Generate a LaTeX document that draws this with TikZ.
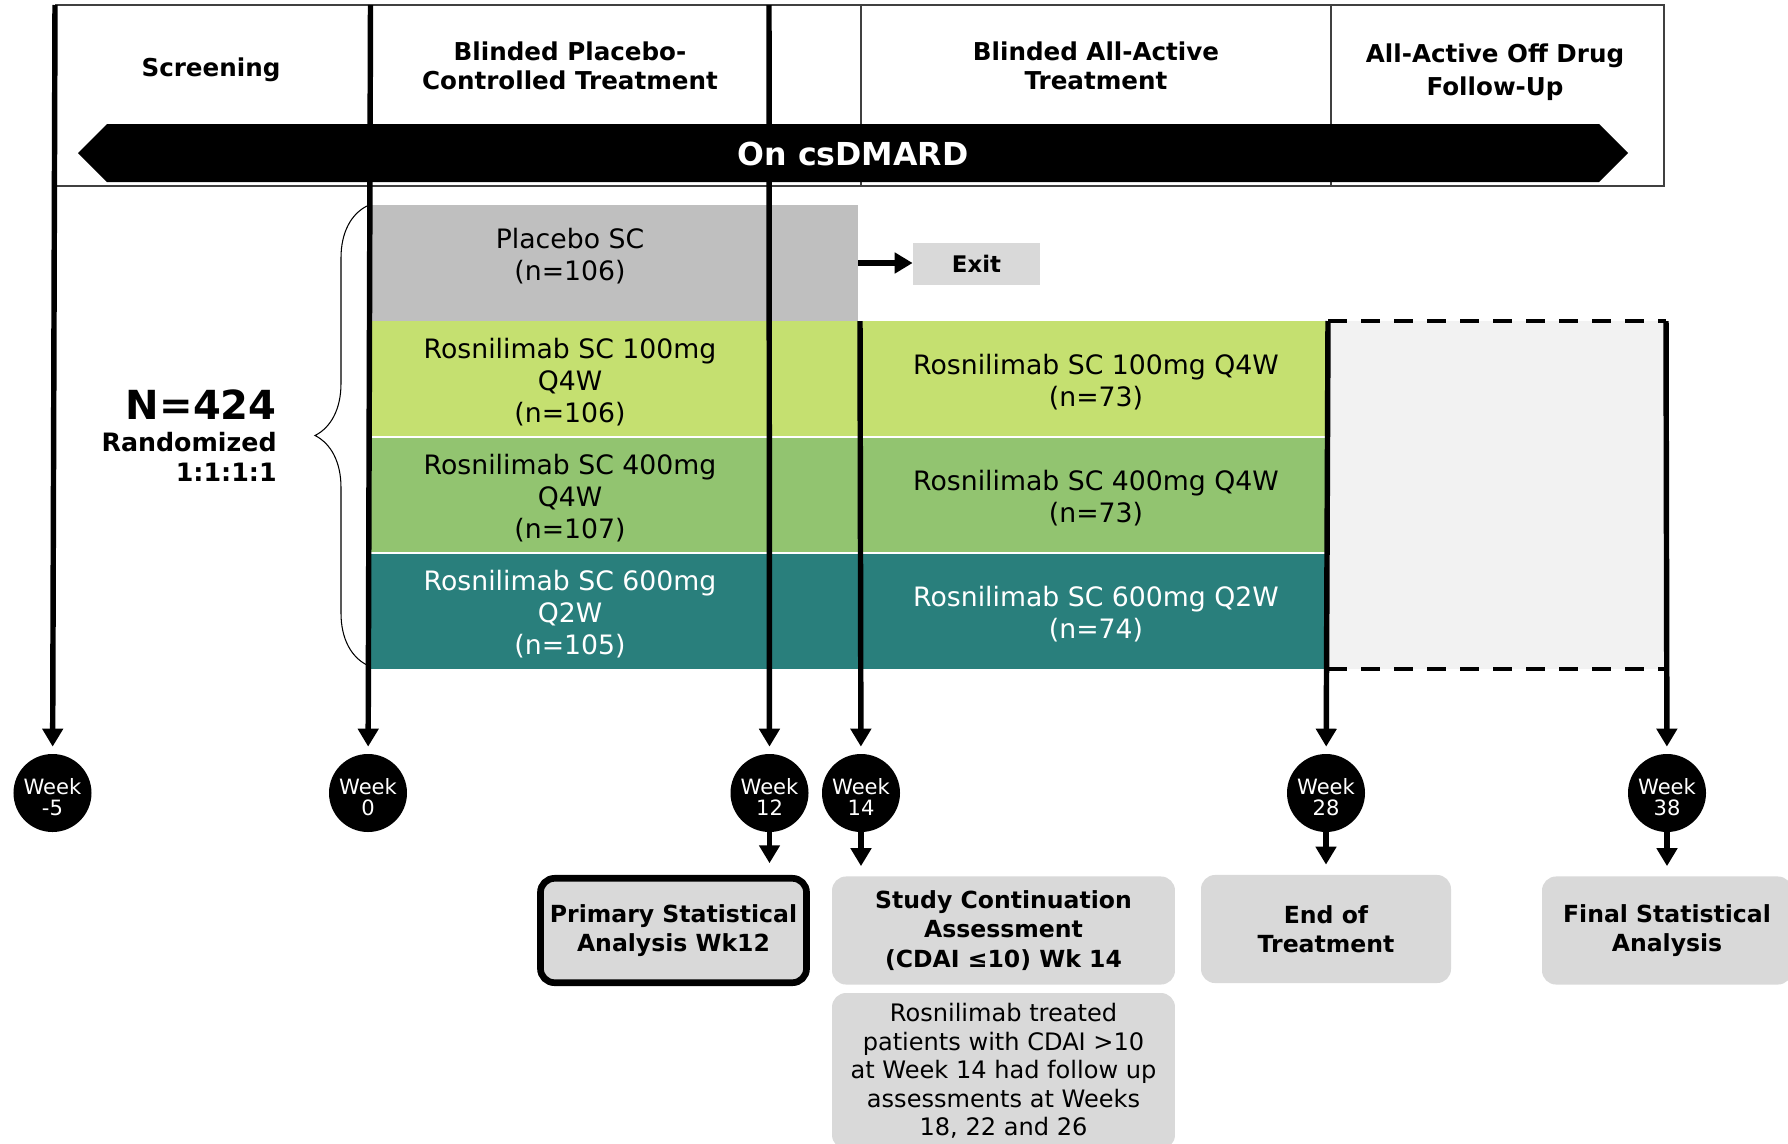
\documentclass[tikz,border=0pt]{standalone}
\usepackage{fontspec}
\setmainfont{DejaVu Sans}
\usetikzlibrary{arrows.meta,decorations.pathreplacing}

\definecolor{hdrline}{HTML}{404040}
\definecolor{boxgray}{HTML}{D9D9D9}
\definecolor{pbogray}{HTML}{BFBFBF}
\definecolor{fugray}{HTML}{F2F2F2}
\definecolor{dose100}{HTML}{C5E070}
\definecolor{dose400}{HTML}{92C470}
\definecolor{dose600}{HTML}{297F7C}

\begin{document}
\begin{tikzpicture}[x=0.02cm, y=-0.02cm,
    hdr/.style={font=\bfseries\fontsize{14}{16.8}\selectfont, align=center},
    arm/.style={font=\fontsize{15.2}{18.2}\selectfont, align=center},
    week/.style={circle, fill=black, minimum size=44.4pt, inner sep=0pt},
    wklab/.style={text=white, align=center, inner sep=0pt, yshift=-2.4pt,
      font=\fontsize{12}{11.8}\selectfont},
    tl/.style={line width=3.1pt, -{Triangle[width=11.4pt,length=10.2pt]}},
    outcome/.style={fill=boxgray, rounded corners=8pt, align=center, minimum height=61.5pt,
      font=\bfseries\fontsize{13.4}{16.8}\selectfont}]

  \useasboundingbox (0,0) rectangle (1788,1143);
  \clip (0,0) rectangle (1788,1143);

  % period header
  \draw[hdrline, line width=0.75pt] (56,5) rectangle (1664,186);
  \draw[hdrline, line width=0.75pt] (861,5) -- (861,186);
  \draw[hdrline, line width=0.75pt] (1331,5) -- (1331,186);
  \fill (78,153) -- (107,124) -- (1599,124) -- (1628,153) -- (1599,182) -- (107,182) -- cycle;

  \node[hdr] (screen) at (211,70) {Screening};
  \node[hdr] (pbophase) at (570,66) {Blinded Placebo-\\Controlled Treatment};
  \node[hdr] (actphase) at (1096,66) {Blinded All-Active\\Treatment};
  \node[hdr, font=\bfseries\fontsize{14}{18.6}\selectfont] (offphase) at (1495,72) {All-Active Off Drug\\Follow-Up};

  % arms
  \node[fill=pbogray, minimum width=277.7pt, minimum height=66pt, inner sep=0pt] (placebo) at (614,263) {};
  \fill[dose100] (370,321) rectangle (1327,437);
  \fill[dose400] (370,437) rectangle (1327,553);
  \fill[dose600] (370,553) rectangle (1327,669);
  \draw[white, line width=0.8pt] (370,437) -- (1327,437);
  \draw[white, line width=0.8pt] (370,553) -- (1327,553);

  \node[arm] (pbotext) at (570,256) {Placebo SC\\(n=106)};
  \node[arm] (r100a) at (570,382) {Rosnilimab SC 100mg\\Q4W\\(n=106)};
  \node[arm] (r400a) at (570,498) {Rosnilimab SC 400mg\\Q4W\\(n=107)};
  \node[arm, text=white] (r600a) at (570,614) {Rosnilimab SC 600mg\\Q2W\\(n=105)};
  \node[arm] (r100b) at (1096,382.5) {Rosnilimab SC 100mg Q4W\\(n=73)};
  \node[arm] (r400b) at (1096,498.5) {Rosnilimab SC 400mg Q4W\\(n=73)};
  \node[arm, text=white] (r600b) at (1096,614.5) {Rosnilimab SC 600mg Q2W\\(n=74)};

  % off drug follow-up
  \fill[fugray] (1328,321) rectangle (1666,669);
  \draw[line width=2.7pt, dash pattern=on 10.8pt off 8pt] (1328,321) -- (1666,321);
  \draw[line width=2.7pt, dash pattern=on 10.8pt off 8pt] (1328,669) -- (1666,669);

  % randomization
  \draw[line width=0.6pt, decorate, decoration={brace, amplitude=29.6pt}] (367,665) -- (367,206);
  \node[anchor=east, inner sep=0pt, font=\bfseries\fontsize{22.8}{27}\selectfont] (ntotal) at (277,405) {N=424};
  \node[anchor=east, inner sep=0pt, align=right, font=\bfseries\fontsize{14.4}{17}\selectfont] (ratio) at (277,457) {Randomized\\1:1:1:1};

  \node[fill=boxgray, minimum width=72.3pt, minimum height=23.9pt,
    font=\bfseries\fontsize{13}{15.6}\selectfont] (exit) at (976.5,264) {Exit};
  \draw[tl] (placebo.east) -- (placebo.east -| exit.west);

  % timeline
  \node[week, label={[wklab]center:Week\\-5}] (wm5) at (52.5,793) {};
  \node[week, label={[wklab]center:Week\\0}] (w0) at (368,793) {};
  \node[week, label={[wklab]center:Week\\12}] (w12) at (769.5,793) {};
  \node[week, label={[wklab]center:Week\\14}] (w14) at (861,793) {};
  \node[week, label={[wklab]center:Week\\28}] (w28) at (1326,793) {};
  \node[week, label={[wklab]center:Week\\38}] (w38) at (1667,793) {};

  \coordinate (tm5) at (55,5);
  \coordinate (t0) at (370.5,5);
  \coordinate (t12) at (769,5);
  \coordinate (t14) at (860,321);
  \coordinate (t28) at (1328,321);
  \coordinate (t38) at (1666,321);
  \draw[tl, shorten >=4pt] (tm5) -- (wm5);
  \draw[tl, shorten >=4pt] (t0) -- (w0);
  \draw[tl, shorten >=4pt] (t12) -- (w12);
  \draw[tl, shorten >=4pt] (t14) -- (w14);
  \draw[tl, shorten >=4pt] (t28) -- (w28);
  \draw[tl, shorten >=4pt] (t38) -- (w38);

  \node[text=white, font=\bfseries\fontsize{18}{21}\selectfont] (csdmard) at (853,154) {On csDMARD};

  % outcomes
  \node[outcome, draw=black, line width=3.8pt, minimum width=151.4pt, minimum height=59.4pt] (prim) at (673.5,930.5) {Primary Statistical\\Analysis Wk12};
  \node[outcome, minimum width=195.2pt] (contin) at (1003.5,930.5) {Study Continuation\\Assessment\\(CDAI ≤10) Wk 14};
  \node[fill=boxgray, rounded corners=8pt, align=center, minimum width=195.2pt, minimum height=88.8pt,
    font=\fontsize{13.7}{16.2}\selectfont] (nonresp) at (1003.5,1071) {Rosnilimab treated\\patients with CDAI >10\\at Week 14 had follow up\\assessments at Weeks\\18, 22 and 26};
  \node[outcome, minimum width=142.3pt] (eot) at (1326,929) {End of\\Treatment};
  \node[outcome, minimum width=142.3pt] (final) at (1667,930.5) {Final Statistical\\Analysis};

  \draw[tl, shorten >=6.7pt] (w12) -- (w12 |- prim.north);
  \draw[tl, shorten >=5.7pt] (w14) -- (w14 |- contin.north);
  \draw[tl, shorten >=5.7pt] (w28) -- (w28 |- eot.north);
  \draw[tl, shorten >=5.7pt] (w38) -- (w38 |- final.north);
\end{tikzpicture}
\end{document}
